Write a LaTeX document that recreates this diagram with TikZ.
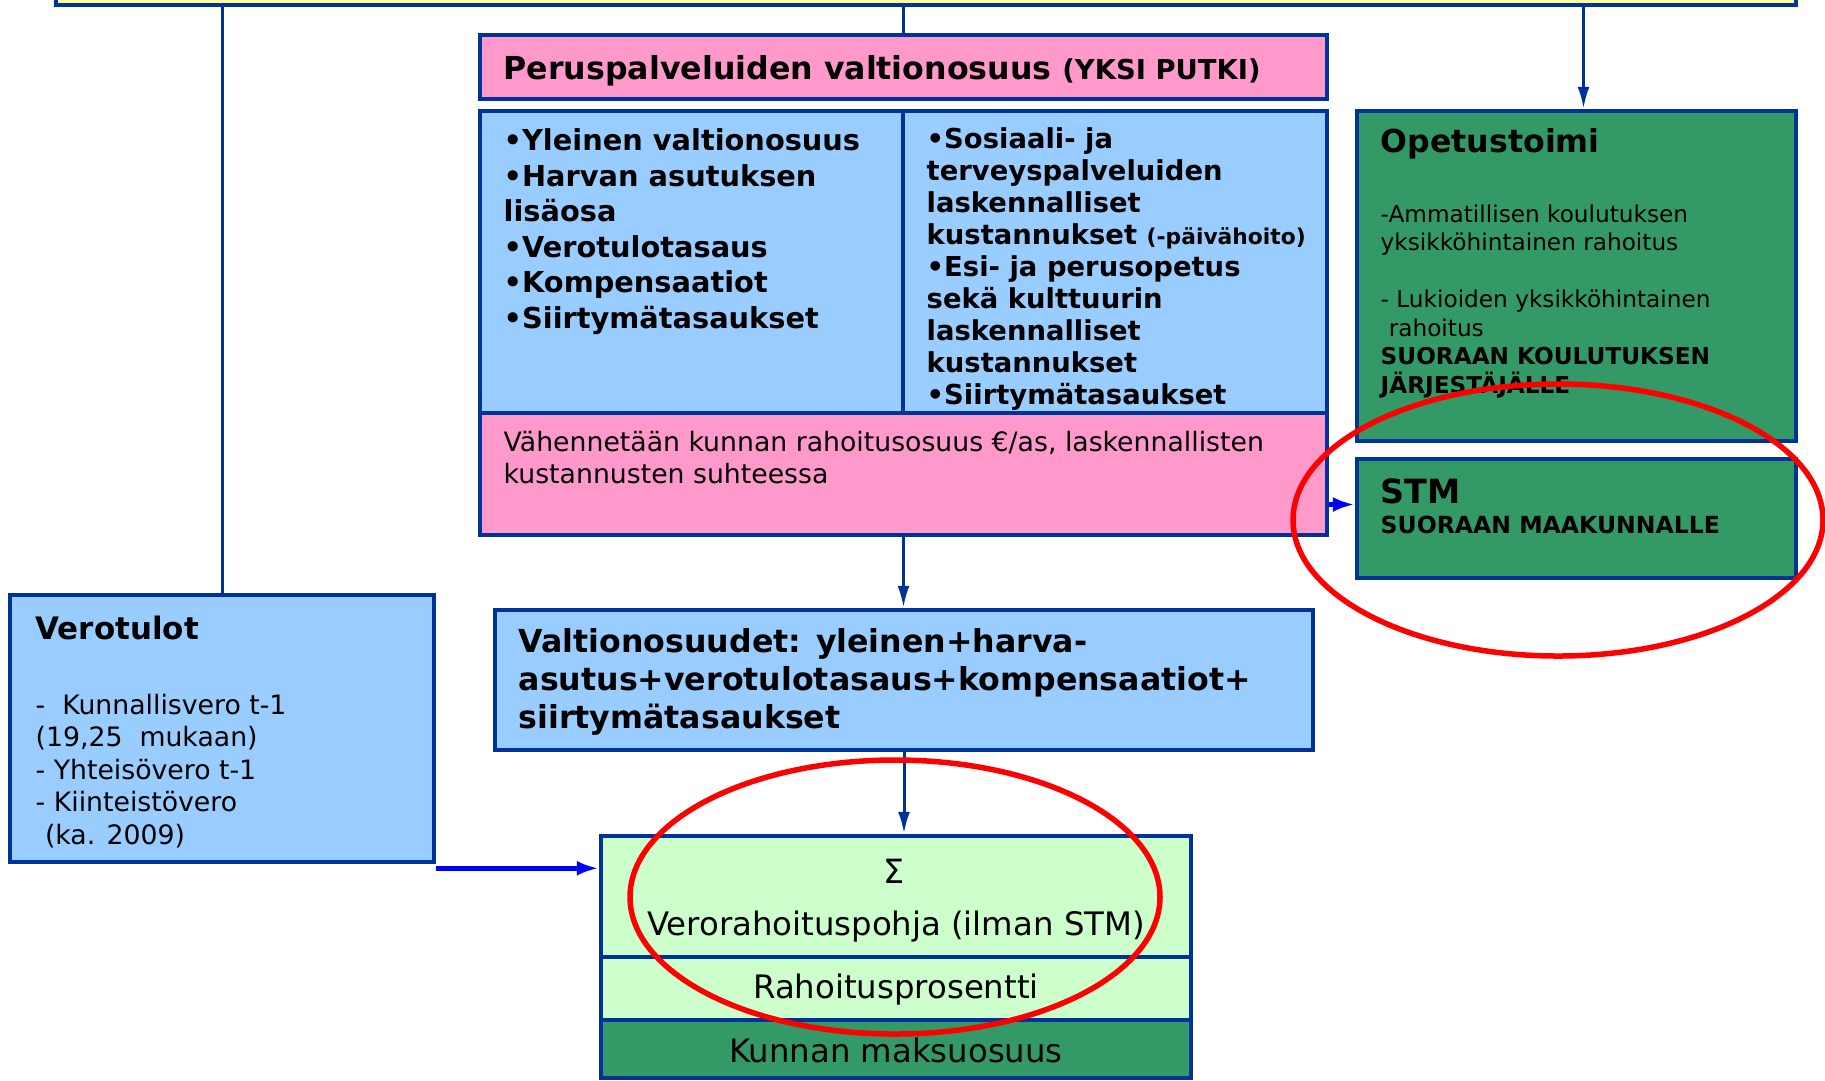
\documentclass[tikz,border=0pt]{standalone}
\usepackage{fontspec}
\setmainfont{DejaVu Sans}
\usetikzlibrary{arrows.meta,fit}
\definecolor{frame}{HTML}{003399}
\definecolor{skyblue}{HTML}{99CCFF}
\definecolor{rosa}{HTML}{FF99CC}
\definecolor{leaf}{HTML}{339966}
\definecolor{mint}{HTML}{CCFFCC}
\definecolor{lemon}{HTML}{FFFF99}
\definecolor{pureblue}{HTML}{0000FF}
\begin{document}
\begin{tikzpicture}[x=0.1mm,y=-0.1mm,
	box/.style={draw=frame,line width=0.45mm,inner sep=0pt},
	link/.style={draw=frame,line width=0.3mm},
	arrow/.style={link,-{Latex[length=2.2mm,width=1.2mm]}},
	barrow/.style={draw=pureblue,line width=0.5mm,-{Latex[length=2.2mm,width=1.5mm]}},
	ring/.style={draw=red,line width=0.55mm},
	txt/.style={inner sep=0pt,align=left}]
	\clip (0,0) rectangle (1825,1080);
	\fill[white] (0,0) rectangle (1825,1080);

	%boxes
	\node[box,fill=lemon,fit={(56,-40) (1796,5)}] (top) {};
	\node[box,fill=rosa,fit={(480,35) (1327,99)}] (perus) {};
	\node[box,fill=skyblue,fit={(480,111) (903,413)}] (yleinen) {};
	\node[box,fill=skyblue,fit={(903,111) (1327,413)}] (sosiaali) {};
	\node[box,fill=rosa,fit={(480,413) (1327,535)}] (vahennys) {};
	\node[box,fill=skyblue,fit={(495,610) (1313,750)}] (valtion) {};
	\node[box,fill=leaf,fit={(1357,111) (1796,441)}] (opetus) {};
	\node[box,fill=leaf,fit={(1357,459) (1796,578)}] (stm) {};
	\node[box,fill=skyblue,fit={(10,595) (434,862)}] (verotulot) {};
	\node[box,fill=mint,fit={(601,836) (1191,957)}] (pohja) {};
	\node[box,fill=mint,fit={(601,957) (1191,1020)}] (prosentti) {};
	\node[box,fill=leaf,fit={(601,1020) (1191,1078)}] (maksu) {};

	%lines and arrows
	\draw[link] (verotulot.north) -- (verotulot.north |- top.south);
	\draw[link] (perus.north) -- (perus.north |- top.south);
	\draw[arrow] ([xshift=0.7mm]opetus.north |- top.south) -- ([xshift=0.7mm]opetus.north);
	\draw[arrow] (vahennys.south) -- (vahennys.south |- valtion.north);
	\draw[arrow] (valtion.south) -- (valtion.south |- pohja.north);
	\draw[barrow] ([yshift=1.4mm]stm.west -| vahennys.east) -- ([yshift=1.4mm]stm.west);
	\draw[barrow] ([yshift=-0.4mm]verotulot.south east) -- ([yshift=-0.4mm]verotulot.south east -| pohja.west);

	%labels
	\node[txt,anchor=base west,font=\fontsize{9}{11}\selectfont\bfseries] (perust) at (503,79)
	  {Peruspalveluiden valtionosuus {\fontsize{7.8}{9}\selectfont (YKSI PUTKI)}};
	\node[txt,anchor=north west,font=\fontsize{8.2}{10.1}\selectfont\bfseries] (yleinent) at (503,128)
	  {•Yleinen valtionosuus\\•Harvan asutuksen\\lisäosa\\•Verotulotasaus\\•Kompensaatiot\\•Siirtymätasaukset};
	\node[txt,anchor=north west,font=\fontsize{7.8}{9.1}\selectfont\bfseries] (sosiaalit) at (926,127)
	  {•Sosiaali- ja\\terveyspalveluiden\\laskennalliset\\kustannukset {\fontsize{6.2}{7}\selectfont (-päivähoito)}\\•Esi- ja perusopetus\\sekä kulttuurin\\laskennalliset\\kustannukset\\•Siirtymätasaukset};
	\node[txt,anchor=north west,font=\fontsize{7.6}{9.25}\selectfont] (vahennyst) at (503,430)
	  {Vähennetään kunnan rahoitusosuus €/as, laskennallisten\\kustannusten suhteessa};
	\node[txt,anchor=north west,font=\fontsize{9}{10.8}\selectfont\bfseries] (valtiont) at (518,628)
	  {Valtionosuudet: yleinen+harva-\\asutus+verotulotasaus+kompensaatiot+\\siirtymätasaukset};
	\node[txt,anchor=base west,font=\fontsize{9}{11}\selectfont\bfseries] (opetust) at (1380,152) {Opetustoimi};
	\node[txt,anchor=north west,font=\fontsize{6.6}{8.1}\selectfont] (opetusb) at (1380,204)
	  {-Ammatillisen koulutuksen\\yksikköhintainen rahoitus\\[8.1pt]- Lukioiden yksikköhintainen\\\hspace{0.35em}rahoitus\\\textbf{SUORAAN KOULUTUKSEN}\\\textbf{JÄRJESTÄJÄLLE}};
	\node[txt,anchor=base west,font=\fontsize{9.5}{11}\selectfont\bfseries] (stmt) at (1380,503) {STM};
	\node[txt,anchor=base west,font=\fontsize{6.7}{8}\selectfont\bfseries] (stmb) at (1380,533) {SUORAAN MAAKUNNALLE};
	\node[txt,anchor=base west,font=\fontsize{8.8}{11}\selectfont\bfseries] (verot) at (35,639) {Verotulot};
	\node[txt,anchor=north west,font=\fontsize{7.6}{9.25}\selectfont] (verob) at (35,693)
	  {-\ \ Kunnallisvero t-1\\(19,25\ \ mukaan)\\- Yhteisövero t-1\\- Kiinteistövero\\\hspace{0.35em}(ka. 2009)};
	\node[txt,font=\fontsize{9.5}{11}\selectfont] (sigma) at (894,871) {Σ};
	\node[txt,font=\fontsize{9.2}{11}\selectfont] (pohjat) at (896,927) {Verorahoituspohja (ilman STM)};
	\node[txt,font=\fontsize{9.2}{11}\selectfont] (prosenttit) at (896,990) {Rahoitusprosentti};
	\node[txt,font=\fontsize{9.2}{11}\selectfont] (maksut) at (896,1050) {Kunnan maksuosuus};

	%red rings
	\draw[ring] (1558,520) ellipse [x radius=265,y radius=136];
	\draw[ring] (895,897) ellipse [x radius=265,y radius=137];
\end{tikzpicture}
\end{document}
